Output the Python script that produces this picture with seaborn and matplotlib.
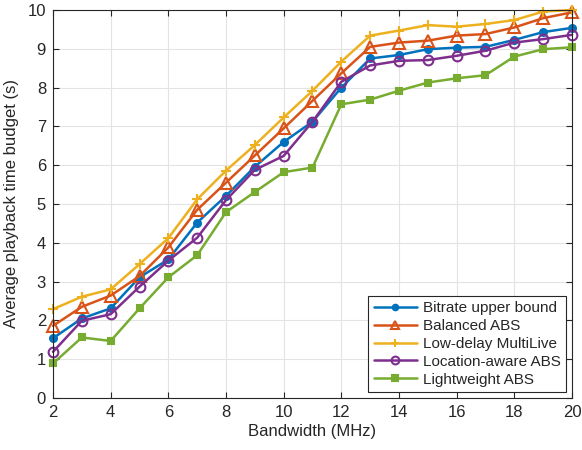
import numpy as np
import pandas as pd
import matplotlib
matplotlib.use("Agg")
import matplotlib.pyplot as plt
import seaborn as sns

bandwidth = list(range(2, 21))
bitrate_upper = [1.54, 2.05, 2.31, 3.11, 3.57, 4.52, 5.21, 5.96, 6.60, 7.12, 8.00, 8.75, 8.84, 8.99, 9.03, 9.05, 9.23, 9.43, 9.54]
balanced_abs = [1.86, 2.35, 2.64, 3.14, 3.88, 4.85, 5.55, 6.25, 6.95, 7.66, 8.37, 9.05, 9.16, 9.21, 9.34, 9.38, 9.55, 9.79, 9.94]
low_delay = [2.29, 2.61, 2.80, 3.45, 4.12, 5.12, 5.86, 6.52, 7.23, 7.92, 8.67, 9.34, 9.47, 9.61, 9.57, 9.64, 9.74, 9.96, 10.0]
location_aware = [1.19, 1.99, 2.16, 2.87, 3.54, 4.13, 5.10, 5.88, 6.24, 7.12, 8.15, 8.57, 8.69, 8.71, 8.82, 8.95, 9.16, 9.25, 9.36]
lightweight = [0.89, 1.56, 1.47, 2.31, 3.11, 3.68, 4.79, 5.31, 5.82, 5.94, 7.57, 7.69, 7.92, 8.13, 8.24, 8.32, 8.80, 8.99, 9.04]

series_names = ["Bitrate upper bound", "Balanced ABS", "Low-delay MultiLive",
                "Location-aware ABS", "Lightweight ABS"]
series_values = [bitrate_upper, balanced_abs, low_delay, location_aware, lightweight]
colors = ["#0072BD", "#D95319", "#EDB120", "#7E2F8E", "#77AC30"]
markers = ["o", "^", "+", "o", "s"]
msizes = [5, 8, 7, 7, 5]
filled = [True, False, True, False, True]
x_ticks = list(range(2, 21, 2))
y_ticks = list(range(0, 11))

sns.set_style("whitegrid")
plt.rcParams["font.family"] = ["Liberation Sans", "DejaVu Sans"]

fig = plt.figure(figsize=(5.82, 4.5), dpi=100)
ax = fig.add_axes([53/582, 1 - 398/450, (572-53)/582, (398-10)/450])

for name, vals, c, m, ms, f in zip(series_names, series_values, colors, markers, msizes, filled):
    df = pd.DataFrame({"x": bandwidth, "y": vals})
    sns.lineplot(data=df, x="x", y="y", ax=ax, color=c, marker=m, markersize=ms,
                 linewidth=1.8, markeredgewidth=1.5, markeredgecolor=c,
                 markerfacecolor=(c if f else "none"), label=name, clip_on=False, zorder=3)

ax.set_xlim(2, 20)
ax.set_ylim(0, 10)
ax.set_xticks(x_ticks)
ax.set_yticks(y_ticks)
ax.tick_params(direction="in", labelsize=12, length=4, color="#262626", labelcolor="#262626",
               top=True, right=True, bottom=True, left=True, pad=5)
ax.grid(True, color="#e3e3e3", linewidth=0.8)
ax.set_axisbelow(True)
for s in ax.spines.values():
    s.set_visible(True)
    s.set_color("#262626")
    s.set_linewidth(0.8)
    s.set_zorder(4)
ax.set_xlabel("Bandwidth (MHz)", fontsize=12, color="#262626", labelpad=3)
ax.set_ylabel("Average playback time budget (s)", fontsize=12, color="#262626", labelpad=6)

leg = ax.legend(loc="lower right", fontsize=11, frameon=True, fancybox=False,
                edgecolor="#262626", borderaxespad=0.4, handlelength=2.8,
                labelspacing=0.25, borderpad=0.35, handletextpad=0.4, markerscale=0.8)
leg.get_frame().set_linewidth(0.8)
leg.get_frame().set_alpha(1)
leg.set_zorder(5)

fig.savefig("out.png", dpi=100)
